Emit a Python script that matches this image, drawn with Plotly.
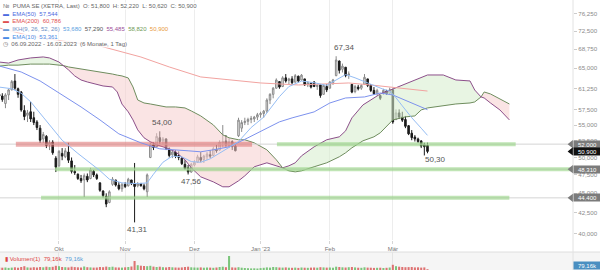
import math
import plotly.graph_objects as go

# ---------------- data ----------------
day_index = list(range(137))  # trading days 06.09.2022 .. 16.03.2023

opens = [
    60.2, 59.9, 58.6, 60.1, 61.0, 62.6, 61.2, 60.6, 57.4, 56.6,
    57.2, 56.2, 55.5, 54.5, 52.8, 53.2, 51.9, 52.3, 49.9, 48.8,
    50.6, 50.1, 50.8, 49.5, 48.0, 47.6, 47.0, 46.8, 47.3, 47.0,
    48.0, 47.5, 46.4, 45.3, 44.6, 43.8, 46.2, 46.8, 46.1, 45.6,
    46.2, 46.0, 46.8, 46.3, 46.0, 46.3, 46.0, 45.2, 50.0, 51.9,
    51.6, 53.0, 52.5, 52.8, 51.3, 50.4, 50.8, 50.3, 49.9, 49.0,
    48.5, 47.9, 48.9, 49.3, 50.0, 49.7, 50.1, 50.4, 50.3, 51.2,
    51.1, 52.2, 52.5, 51.8, 52.4, 51.7, 53.3, 54.5, 55.4, 55.6,
    55.9, 56.0, 56.3, 56.7, 56.9, 57.3, 59.2, 60.2, 61.3, 62.5,
    61.6, 63.2, 62.7, 63.0, 62.4, 63.5, 62.8, 63.0, 61.9, 62.2,
    62.4, 61.6, 61.9, 60.2, 61.6, 61.3, 62.3, 63.6, 66.4, 64.8,
    65.2, 63.7, 62.0, 60.7, 61.5, 61.3, 62.0, 63.0, 61.9, 60.9,
    60.4, 60.0, 60.4, 60.8, 60.4, 61.0, 55.9, 57.0, 56.3, 55.9,
    54.9, 53.7, 53.1, 52.8, 52.5, 51.9, 51.8]
highs = [
    60.6, 60.4, 60.4, 61.2, 62.8, 63.9, 61.4, 60.8, 58.3, 57.5,
    58.9, 57.2, 55.8, 55.0, 53.9, 53.4, 52.6, 52.6, 50.2, 51.1,
    51.4, 51.4, 52.2, 50.0, 48.9, 47.7, 47.5, 47.7, 47.7, 48.5,
    48.2, 47.7, 46.5, 45.4, 45.0, 45.4, 47.2, 46.8, 46.5, 46.4,
    46.5, 47.1, 46.8, 49.2, 46.5, 46.4, 46.3, 47.7, 52.2, 52.3,
    53.7, 54.0, 53.1, 52.9, 51.5, 51.1, 51.1, 50.9, 50.0, 49.6,
    48.9, 49.2, 49.6, 50.4, 50.8, 50.4, 50.8, 51.1, 51.6, 51.9,
    52.6, 55.0, 53.4, 52.9, 52.6, 52.2, 56.2, 55.8, 56.2, 56.2,
    56.5, 56.5, 57.0, 57.2, 57.5, 59.5, 60.4, 61.5, 63.1, 62.6,
    63.5, 63.9, 63.2, 63.5, 63.9, 63.6, 63.9, 63.0, 62.6, 62.3,
    62.6, 62.0, 62.0, 62.0, 62.0, 62.6, 63.0, 67.34, 66.5, 65.9,
    65.2, 64.4, 62.0, 61.9, 61.9, 62.0, 63.9, 63.0, 62.0, 61.5,
    61.2, 60.1, 61.2, 61.0, 61.4, 61.2, 57.6, 57.6, 57.2, 56.5,
    55.0, 54.2, 53.4, 53.0, 52.6, 52.2, 52.22]
lows = [
    59.6, 58.9, 57.8, 59.2, 60.9, 61.0, 59.6, 57.2, 55.8, 55.5,
    55.5, 55.0, 54.2, 52.2, 52.2, 51.4, 51.1, 50.4, 47.9, 48.6,
    49.6, 49.9, 49.2, 47.7, 47.5, 46.8, 46.4, 44.5, 46.5, 46.9,
    47.2, 46.8, 45.2, 44.4, 43.2, 43.7, 46.0, 45.9, 45.4, 45.2,
    45.7, 45.9, 46.1, 41.31, 45.8, 45.9, 45.4, 44.5, 49.9, 51.1,
    51.5, 52.0, 51.9, 51.1, 50.0, 49.9, 49.9, 49.6, 48.9, 48.2,
    47.56, 47.8, 48.7, 49.2, 49.3, 49.2, 49.6, 49.9, 50.2, 50.7,
    51.0, 51.5, 51.6, 51.4, 51.1, 50.9, 53.1, 53.9, 55.0, 55.0,
    55.3, 55.5, 55.8, 56.2, 56.2, 57.0, 58.5, 59.5, 61.2, 61.2,
    61.5, 62.3, 62.0, 62.0, 62.3, 62.3, 62.7, 61.7, 61.5, 61.25,
    61.5, 61.0, 59.6, 60.1, 60.6, 61.25, 61.9, 63.5, 64.0, 64.2,
    63.3, 63.0, 60.4, 60.4, 60.9, 61.0, 61.9, 61.5, 60.6, 60.1,
    60.0, 59.2, 60.1, 60.1, 60.3, 55.2, 55.8, 56.0, 55.5, 54.5,
    53.4, 52.6, 52.4, 52.2, 51.4, 50.3, 50.62]
closes = [
    59.9, 59.3, 60.1, 61.0, 62.5, 61.3, 60.2, 57.5, 56.4, 57.0,
    56.0, 55.4, 54.6, 52.6, 53.5, 51.8, 52.2, 50.7, 48.6, 50.9,
    50.2, 51.0, 49.6, 48.0, 47.8, 47.0, 46.7, 47.4, 46.8, 48.2,
    47.5, 47.0, 45.4, 44.7, 43.6, 45.2, 46.9, 46.1, 45.6, 46.2,
    45.9, 46.9, 46.3, 45.9, 46.3, 46.0, 45.6, 47.5, 51.9, 51.5,
    53.2, 52.4, 52.8, 51.4, 50.3, 50.8, 50.2, 50.0, 49.1, 48.4,
    47.9, 49.0, 49.3, 50.1, 49.6, 50.2, 50.5, 50.2, 51.3, 51.0,
    52.3, 52.4, 51.9, 52.4, 51.6, 51.0, 55.8, 55.4, 55.6, 55.9,
    56.1, 56.3, 56.7, 56.9, 57.3, 59.2, 60.2, 61.3, 62.8, 61.5,
    63.2, 62.6, 63.0, 62.3, 63.6, 62.6, 63.7, 61.9, 62.3, 61.5,
    61.6, 61.8, 60.0, 61.8, 61.0, 62.4, 62.8, 66.6, 64.6, 65.4,
    63.6, 63.9, 60.6, 61.6, 61.2, 61.8, 63.3, 61.8, 60.9, 60.3,
    60.9, 59.5, 60.9, 60.3, 61.0, 55.5, 57.0, 56.3, 55.8, 54.8,
    53.6, 53.0, 52.8, 52.4, 51.7, 51.6, 50.9]
volumes_k = [
    260, 230, 250, 210, 240, 270, 230, 300, 380, 260,
    240, 280, 250, 300, 270, 330, 290, 320, 420, 380,
    300, 280, 260, 330, 290, 270, 250, 350, 280, 260,
    240, 250, 300, 280, 340, 290, 330, 260, 250, 240,
    270, 300, 350, 900, 480, 430, 400, 380, 420, 340,
    300, 330, 280, 260, 300, 270, 250, 240, 260, 300,
    330, 270, 250, 240, 260, 230, 250, 240, 220, 250,
    300, 330, 280, 1400, 260, 240, 280, 230, 200, 180,
    160, 170, 150, 190, 220, 260, 240, 300, 280, 250,
    240, 260, 230, 220, 240, 210, 250, 230, 220, 240,
    250, 230, 280, 260, 240, 250, 230, 330, 300, 270,
    250, 280, 300, 260, 230, 220, 270, 240, 230, 210,
    220, 230, 200, 220, 250, 520, 380, 330, 300, 280,
    290, 300, 260, 270, 240, 260, 79.16]

month_ticks = [19, 40, 62, 83, 105, 125]
month_labels = ["Okt", "Nov", "Dez", "Jan '23", "Feb", "Mär"]
price_ticks = [40, 42.5, 45, 47.5, 50, 52.5, 55, 57.5, 61.25, 65, 68.75, 72.5, 76.25]

ema10_x = [0, 4, 7, 10, 14, 17, 20, 25, 29, 32, 35, 39, 44, 47, 49, 52, 55, 58, 61, 64,
           67, 70, 73, 76, 80, 84, 87, 89, 92, 96, 100, 104, 107, 110, 113, 116, 119, 122, 124, 126,
           128, 131, 134, 136]
ema10_y = [61.5, 61.2, 60.4, 58.9, 56.3, 54.4, 52.6, 50.6, 49.2, 48.1, 46.9, 46.4, 46.3, 46.4, 47.6, 49.3, 50.2, 50.1, 49.4, 49.3,
           49.8, 50.7, 51.5, 52.4, 54.6, 56.3, 58.4, 59.8, 61.6, 62.6, 62.3, 61.8, 62.8, 63.8, 63.2, 62.5, 61.8, 61.1, 60.8, 59.6,
           58.2, 56.2, 54.5, 53.361]
ema50_x = [0, 7, 13, 19, 26, 32, 38, 45, 51, 60, 64, 68, 73, 79, 84, 89, 93, 100, 105, 110, 116, 121, 125, 130, 136]
ema50_y = [65.44, 64.29, 62.62, 60.44, 58.01, 55.84, 53.6, 52.2, 51.29, 50.99, 50.84, 51.14, 51.59, 52.98, 54.23, 55.52,
           56.17, 57.17, 58.69, 59.56, 59.74, 60.44, 60.09, 58.87, 57.544]
ema200_x = [0, 10, 20, 32, 45, 54, 64, 73, 83, 95, 105, 111, 118, 124, 130, 136]
ema200_y = [73.18, 71.47, 70.43, 69.40, 67.19, 65.25, 63.36, 62.80, 62.25, 61.88, 62.06, 62.25, 61.88, 61.52, 61.15, 60.786]

cloud_x = [0, 3, 6, 10, 14, 16, 19, 20.5, 22, 24, 26, 28, 31, 33, 36, 37.5, 39, 41, 42.5, 44, 46, 48, 50, 53,
           56, 59, 61, 64, 68, 71, 73, 76, 78, 81, 85, 88, 90, 92, 94, 96, 100, 104, 108, 110, 112, 115.5, 119, 121,
           125, 129, 132, 134, 136, 141, 145, 149.5, 151, 153, 154, 156, 159, 162]
senkou_a = [66.2, 66.0, 66.6, 67.0, 67.2, 67.0, 66.2, 65.5, 64.7, 63.55, 62.8, 62.43, 62.06, 61.7, 61.52, 60.62,
            58.5, 57.17, 55.84, 54.23, 52.98, 52.36, 51.9, 51.44, 50.84, 49.66, 48.5, 47.23, 46.54, 45.87, 45.87, 46.68,
            47.37, 48.65, 49.22, 48.79, 48.5, 48.79, 49.22, 50.24, 51.59, 52.67, 53.13, 54.07, 56.17, 58.35, 59.56, 60.27,
            61.15, 62.06, 62.8, 63.36, 63.73, 63.73, 62.8, 62.62, 60.97, 59.74, 59.56, 58.69, 57.5, 55.84]
senkou_b = [65.4, 65.6, 65.6, 65.8, 65.8, 65.8, 65.6, 65.5, 65.25, 65.06, 64.86, 64.67, 64.5, 64.3, 63.9, 63.7,
            63.55, 63.17, 61.52, 59.21, 58.69, 58.52, 58.35, 58.01, 58.01, 57.84, 57.33, 56.5, 55.03, 53.44, 52.98, 52.67,
            52.67, 52.2, 51.14, 49.66, 48.5, 48.07, 47.93, 48.07, 48.65, 49.22, 50.1, 50.69, 51.44, 52.51, 53.13, 53.76,
            55.84, 56.34, 56.5, 57.5, 57.84, 58.18, 58.52, 58.69, 58.87, 59.74, 60.62, 60.27, 59.39, 58.52]

level_values = [52.0, 48.31, 44.4]
band_levels = [52.0, 52.0, 48.31, 44.4]
band_start = [5.3, 88.2, 17.7, 13.3]
band_end = [80.3, 164.0, 183.0, 162.0]
band_kind = ["red", "green", "green", "green"]

extreme_x = [51, 60, 43, 107, 135]
extreme_val = [54.00, 47.56, 41.31, 67.34, 50.30]
extreme_pos = ["above", "below", "below", "above", "right"]

last_price = 50.90
last_volume_k = 79.16

# ---------------- figure ----------------
X_END = 573 / 600
MAIN_BOTTOM = 30 / 270
VOL_TOP = 18 / 270
Y_TOP = 79.45
Y_BOTTOM = 39.225

fig = go.Figure()

# Ichimoku cloud fill segments
seg_bounds = []
start = 0
for i in range(1, len(cloud_x)):
    if senkou_a[i] == senkou_b[i] or i == len(cloud_x) - 1:
        seg_bounds.append((start, i))
        start = i
for s, e in seg_bounds:
    k = s + 1
    bull = senkou_a[k] > senkou_b[k]
    fc = "rgba(214,236,204,0.55)" if bull else "rgba(246,206,206,0.55)"
    xs = cloud_x[s:e + 1]
    fig.add_trace(go.Scatter(x=xs, y=senkou_b[s:e + 1], mode="lines", line=dict(width=0),
                             hoverinfo="skip", xaxis="x", yaxis="y"))
    fig.add_trace(go.Scatter(x=xs, y=senkou_a[s:e + 1], mode="lines", line=dict(width=0),
                             fill="tonexty", fillcolor=fc, hoverinfo="skip", xaxis="x", yaxis="y"))

fig.add_trace(go.Scatter(x=cloud_x, y=senkou_b, mode="lines", line=dict(color="#6f8d5e", width=1),
                         hoverinfo="skip", xaxis="x", yaxis="y"))
fig.add_trace(go.Scatter(x=cloud_x, y=senkou_a, mode="lines", line=dict(color="#8c4f8a", width=1),
                         hoverinfo="skip", xaxis="x", yaxis="y"))

# horizontal levels (thin grey) and coloured bands
for lv in level_values:
    fig.add_trace(go.Scatter(x=[0, 183], y=[lv, lv], mode="lines",
                             line=dict(color="#d4d4d4", width=1), hoverinfo="skip", xaxis="x", yaxis="y"))
for lv, x0, x1, kind in zip(band_levels, band_start, band_end, band_kind):
    col = "rgba(222,112,112,0.55)" if kind == "red" else "rgba(140,208,120,0.55)"
    wid = 5 if kind == "red" else 4
    fig.add_trace(go.Scatter(x=[x0, x1], y=[lv, lv], mode="lines",
                             line=dict(color=col, width=wid), hoverinfo="skip", xaxis="x", yaxis="y"))

# EMAs
fig.add_trace(go.Scatter(x=ema200_x, y=ema200_y, mode="lines", line=dict(color="#f2a3a0", width=1),
                         hoverinfo="skip", xaxis="x", yaxis="y"))
fig.add_trace(go.Scatter(x=ema50_x, y=ema50_y, mode="lines", line=dict(color="#7d92ee", width=1),
                         hoverinfo="skip", xaxis="x", yaxis="y"))
fig.add_trace(go.Scatter(x=ema10_x, y=ema10_y, mode="lines", line=dict(color="#95bdf4", width=1),
                         hoverinfo="skip", xaxis="x", yaxis="y"))

# candles
fig.add_trace(go.Candlestick(
    x=day_index, open=opens, high=highs, low=lows, close=closes,
    increasing=dict(line=dict(color="#8a8a8a", width=1), fillcolor="#f0f0f0"),
    decreasing=dict(line=dict(color="#1a1a1a", width=1), fillcolor="#1a1a1a"),
    whiskerwidth=0, hoverinfo="skip", xaxis="x", yaxis="y"))

# volume
vol_colors = ["rgba(110,192,110,0.9)" if c >= o else "rgba(220,100,100,0.9)" for o, c in zip(opens, closes)]
fig.add_trace(go.Bar(x=day_index, y=volumes_k, marker=dict(color=vol_colors, line=dict(width=0)),
                     hoverinfo="skip", xaxis="x2", yaxis="y2"))

# tag tips on the price axis
tag_vals = [52.0, last_price, 48.31, 44.4]
tag_cols = ["#7b7b7b", "#111111", "#7b7b7b", "#7b7b7b"]
fig.add_trace(go.Scatter(x=[181.6] * len(tag_vals), y=tag_vals, mode="markers",
                         marker=dict(symbol="triangle-left", size=7, color=tag_cols),
                         cliponaxis=False, hoverinfo="skip", xaxis="x", yaxis="y"))

fnt = "Liberation Sans, Arial, sans-serif"
annotations = []

def fmt(v, d):
    return f"{v:.{d}f}".replace(".", ",")

# extreme labels
for xi, v, pos in zip(extreme_x, extreme_val, extreme_pos):
    a = dict(x=xi, y=math.log10(v), xref="x", yref="y", text=fmt(v, 2), showarrow=False,
             font=dict(size=8, color="#555", family=fnt))
    if pos == "above":
        a.update(yanchor="bottom", yshift=2, xshift=3 if xi < 100 else 8)
    elif pos == "below":
        a.update(yanchor="top", yshift=-1, xshift=3)
    else:
        a.update(yanchor="middle", yshift=-4, xshift=11)
    annotations.append(a)

# price tags
for v, c in zip(tag_vals, tag_cols):
    annotations.append(dict(x=X_END, y=math.log10(v), xref="paper", yref="y", xanchor="left", yanchor="middle",
                            text=fmt(v, 3), showarrow=False, bgcolor=c, borderpad=0.5, width=26,
                            font=dict(size=6, color="white", family=fnt)))
annotations.append(dict(x=X_END, y=last_volume_k, xref="paper", yref="y2", xanchor="left", yanchor="middle",
                        yshift=4, text=fmt(last_volume_k, 2) + "k", showarrow=False, bgcolor="#4a8fc1",
                        borderpad=0.5, width=26, font=dict(size=6, color="white", family=fnt)))

# legend block
NB = "\u00a0"
legend_lines = [
    (5.7, f"<span style='color:#777'>№</span>{NB}{NB}PUMA SE (XETRA, Last){NB}{NB}O: 51,800{NB}{NB}H: 52,220{NB}{NB}L: 50,620{NB}{NB}C: 50,900", "#666"),
    (14.0, f"<span style='color:#4d6be0'>▬</span>{NB}{NB}EMA(50){NB}{NB}57,544", "#4d6be0"),
    (21.5, f"<span style='color:#e05050'>▬</span>{NB}{NB}EMA(200){NB}{NB}60,786", "#e05050"),
    (29.0, f"<span style='color:#6b9ad6'>▬</span>{NB}{NB}IKH(9, 26, 52, 26){NB}{NB}<span style='color:#5aa0e0'>53,680</span>{NB}{NB}"
           f"<span style='color:#555'>57,290</span>{NB}{NB}<span style='color:#9b4f99'>55,485</span>{NB}{NB}"
           f"<span style='color:#6f9a55'>58,820</span>{NB}{NB}<span style='color:#e89a3c'>50,900</span>", "#6b8fc6"),
    (37.0, f"<span style='color:#4a8be6'>▬</span>{NB}{NB}EMA(10){NB}{NB}53,361", "#4a8be6"),
    (44.5, f"◷{NB}{NB}06.09.2022 - 16.03.2023{NB}{NB}(6 Monate, 1 Tag)", "#666"),
]
for ypix, txt, col in legend_lines:
    annotations.append(dict(x=0.003, y=1 - ypix / 270, xref="paper", yref="paper", xanchor="left", yanchor="middle",
                            text=txt, showarrow=False, bgcolor="rgba(255,255,255,0.85)", borderpad=0,
                            font=dict(size=6, color=col, family=fnt)))

annotations.append(dict(x=0.005, y=1 - 259 / 270, xref="paper", yref="paper", xanchor="left", yanchor="middle",
                        text=f"<span style='color:#d44'>▮</span>{NB}Volumen(1){NB}{NB}79,16k{NB}{NB}<span style='color:#5aa0d8'>79,16k</span>",
                        showarrow=False, font=dict(size=6, color="#d44", family=fnt)))

shapes = [
    dict(type="rect", xref="paper", yref="paper", x0=0, x1=1, y0=0, y1=VOL_TOP,
         fillcolor="#f5f5f5", line=dict(width=0), layer="below"),
    dict(type="line", xref="paper", yref="paper", x0=0, x1=1, y0=VOL_TOP, y1=VOL_TOP,
         line=dict(color="#dedede", width=1), layer="below"),
    dict(type="line", xref="paper", yref="paper", x0=X_END, x1=X_END, y0=0, y1=1,
         line=dict(color="#e2e2e2", width=1), layer="below"),
]

fig.update_layout(
    width=600, height=270, margin=dict(l=0, r=0, t=0, b=0),
    paper_bgcolor="white", plot_bgcolor="rgba(0,0,0,0)", showlegend=False,
    separators=",.", font=dict(family=fnt),
    bargap=0.35,
    xaxis=dict(domain=[0, X_END], range=[0.27, 182.2], anchor="y", tickvals=month_ticks, ticktext=month_labels,
               showgrid=True, gridcolor="#ededed", gridwidth=1, ticks="outside", ticklen=3, tickcolor="#d6d6d6",
               tickfont=dict(size=6, color="#777"), zeroline=False, showline=False,
               rangeslider=dict(visible=False)),
    yaxis=dict(domain=[MAIN_BOTTOM, 1], type="log", range=[math.log10(Y_BOTTOM), math.log10(Y_TOP)],
               side="right", anchor="x", tickvals=price_ticks, tickformat=".3f",
               tickfont=dict(size=6.2, color="#8a8a8a"), ticks="outside", ticklen=3, tickcolor="#cccccc",
               showgrid=False, showline=False, zeroline=False),
    xaxis2=dict(domain=[0, X_END], matches="x", anchor="y2", tickvals=month_ticks, showticklabels=False,
                showgrid=True, gridcolor="#e4e4e4", ticks="", zeroline=False, showline=False),
    yaxis2=dict(domain=[0, VOL_TOP], range=[0, 1800], side="right", anchor="x2", showticklabels=False,
                showgrid=False, showline=False, zeroline=False, ticks=""),
    annotations=annotations,
    shapes=shapes,
)

fig.write_html("out.html")
